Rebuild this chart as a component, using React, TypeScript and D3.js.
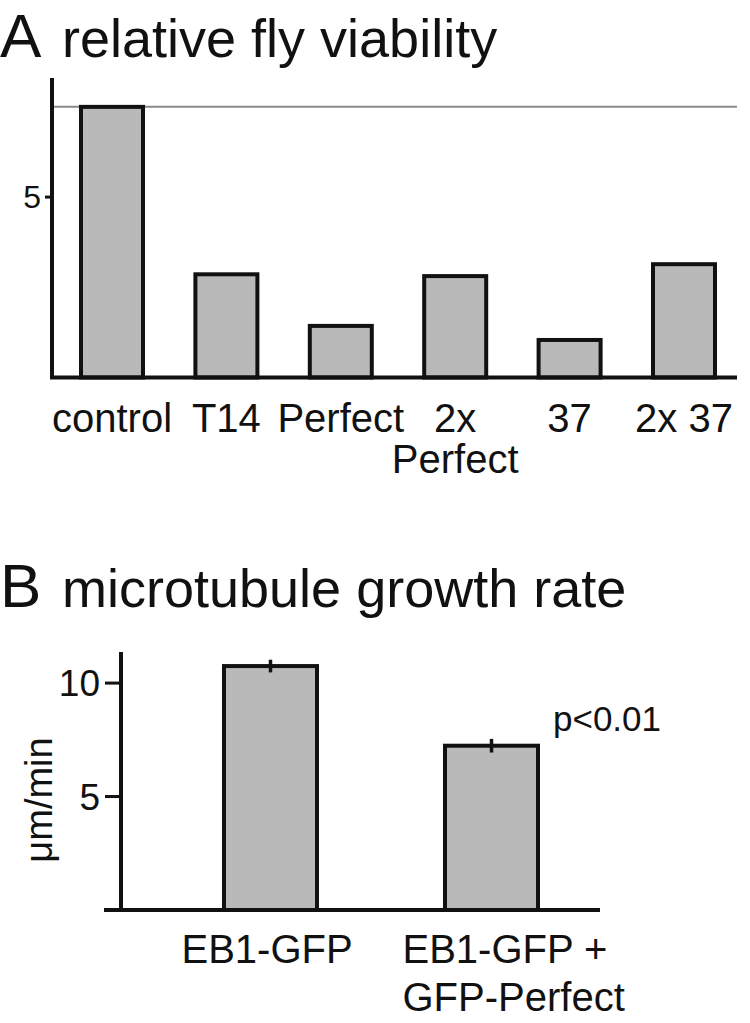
import React from 'react';
import * as d3 from 'd3';

// panel A: relative fly viability
const viabilityCategories = ['control', 'T14', 'Perfect', '2x\nPerfect', '37', '2x 37'];
const viabilityValues = [7.5, 2.86, 1.43, 2.81, 1.04, 3.14];
const viabilityTicks = [5];
const viabilityReference = 7.5;

// panel B: microtubule growth rate
const growthCategories = ['EB1-GFP', 'EB1-GFP +\nGFP-Perfect'];
const growthValues = [10.75, 7.24];
const growthErrors = [0.28, 0.3];
const growthTicks = [5, 10];
const growthNote = 'p<0.01';

const FONT = '"Liberation Sans", Arial, Helvetica, sans-serif';
const BAR_FILL = '#b9b9b9';

const App: React.FC = () => {
  // --- panel A scales
  const xA = d3.scalePoint<string>().domain(viabilityCategories).range([112, 684]);
  const yA = d3.scaleLinear().domain([0, 8.3]).range([377.5, 78]);
  const bwA = 62;

  // --- panel B scales
  const xB = d3.scalePoint<string>().domain(growthCategories).range([270.5, 491.5]);
  const yB = d3.scaleLinear().domain([0, 11.37]).range([910, 652]);
  const bwB = 93;

  const multiline = (
    label: string,
    x: number,
    y: number,
    lh: number,
    size: number,
    anchor: 'middle' | 'start' = 'middle'
  ) => (
    <text x={x} y={y} textAnchor={anchor} fontSize={size} fontFamily={FONT} fill="#111">
      {label.split('\n').map((line, i) => (
        <tspan key={i} x={x} dy={i === 0 ? 0 : lh}>{line}</tspan>
      ))}
    </text>
  );

  return (
    <svg
      width={750}
      height={1023}
      style={{ position: 'absolute', left: 0, top: 0, background: '#fff' }}
    >
      {/* Panel A */}
      <text x={0} y={57} fontSize={62} fontFamily={FONT} fill="#111">A</text>
      <text x={62} y={57} fontSize={54} fontFamily={FONT} fill="#111">relative fly viability</text>

      <line x1={52} x2={737} y1={yA(viabilityReference)} y2={yA(viabilityReference)} stroke="#8a8a8a" strokeWidth={2} />

      {viabilityValues.map((v, i) => (
        <rect
          key={i}
          x={xA(viabilityCategories[i])! - bwA / 2}
          y={yA(v)}
          width={bwA}
          height={yA(0) - yA(v)}
          fill={BAR_FILL}
          stroke="#111"
          strokeWidth={4}
        />
      ))}

      <line x1={52} x2={52} y1={yA.range()[1]} y2={yA(0)} stroke="#111" strokeWidth={4} />
      <line x1={50} x2={737} y1={yA(0)} y2={yA(0)} stroke="#111" strokeWidth={4} />
      {viabilityTicks.map((t) => (
        <g key={t}>
          <line x1={45} x2={52} y1={yA(t)} y2={yA(t)} stroke="#111" strokeWidth={3} />
          <text x={41} y={yA(t) + 11} textAnchor="end" fontSize={32} fontFamily={FONT} fill="#111">{t}</text>
        </g>
      ))}

      {viabilityCategories.map((c) => (
        <g key={c}>{multiline(c, xA(c)!, 432, 41, 40)}</g>
      ))}

      {/* Panel B */}
      <text x={0} y={607} fontSize={62} fontFamily={FONT} fill="#111">B</text>
      <text x={62} y={607} fontSize={54} fontFamily={FONT} fill="#111">microtubule growth rate</text>

      {growthValues.map((v, i) => {
        const cx = xB(growthCategories[i])!;
        return (
          <g key={i}>
            <rect
              x={cx - bwB / 2}
              y={yB(v)}
              width={bwB}
              height={yB(0) - yB(v)}
              fill={BAR_FILL}
              stroke="#111"
              strokeWidth={4}
            />
            <line x1={cx} x2={cx} y1={yB(v + growthErrors[i])} y2={yB(v - growthErrors[i])} stroke="#111" strokeWidth={3.5} />
          </g>
        );
      })}

      <line x1={121} x2={121} y1={yB.range()[1]} y2={yB(0)} stroke="#111" strokeWidth={4} />
      <line x1={104} x2={600} y1={yB(0)} y2={yB(0)} stroke="#111" strokeWidth={4} />
      {growthTicks.map((t) => (
        <g key={t}>
          <line x1={105} x2={121} y1={yB(t)} y2={yB(t)} stroke="#111" strokeWidth={3} />
          <text x={100} y={yB(t) + 13} textAnchor="end" fontSize={37} fontFamily={FONT} fill="#111">{t}</text>
        </g>
      ))}
      <text
        transform="translate(52, 800) rotate(-90)"
        textAnchor="middle"
        fontSize={38}
        fontFamily={FONT}
        fill="#111"
      >
        μm/min
      </text>
      <text x={553} y={731} fontSize={35} fontFamily={FONT} fill="#111">{growthNote}</text>

      {growthCategories.map((c) => (
        <g key={c}>{multiline(c, xB(c)! - 89, 963, 48, 40, 'start')}</g>
      ))}
    </svg>
  );
};

export default App;
